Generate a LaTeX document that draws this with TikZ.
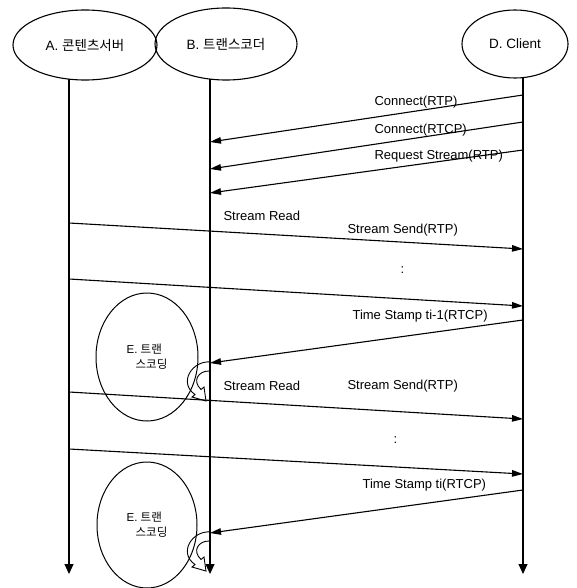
\documentclass[tikz,border=0pt]{standalone}
\usepackage{fontspec}
\setmainfont{Liberation Sans}
\newfontfamily\kr{Noto Sans CJK KR}
\usetikzlibrary{arrows.meta,shapes.geometric}
\begin{document}
\begin{tikzpicture}[x=1pt,y=-1pt,line width=1.1pt,
  actor/.style={ellipse,draw,inner sep=0pt,font=\fontsize{13.5}{15}\selectfont},
  proc/.style={ellipse,draw,inner sep=0pt,line width=1pt,align=left,font=\fontsize{11.5}{15}\selectfont},
  life/.style={-{Triangle[length=10pt,width=9pt]}},
  msg/.style={-{Triangle[length=11pt,width=6.5pt]}},
  lbl/.style={anchor=west,inner sep=0pt,font=\fontsize{13}{15}\selectfont},
  loopar/.style={line width=0.9pt}]
\useasboundingbox (0,0) rectangle (577,588);
% actors
\node[actor,minimum width=144pt,minimum height=70pt] (A) at (85,45) {A. {\kr 콘텐츠서버}};
\node[actor,minimum width=142pt,minimum height=72pt] (B) at (226,44) {B. {\kr 트랜스코더}};
\node[actor,minimum width=106pt,minimum height=68pt] (D) at (515,44) {D. Client};
% lifelines
\coordinate (Atop) at (69,79); \coordinate (Abot) at (69,574);
\coordinate (Btop) at (210,79); \coordinate (Bbot) at (210,574);
\coordinate (Dtop) at (523,78); \coordinate (Dbot) at (523,574);
\draw[life] (Atop) -- (Abot);
\draw[life] (Btop) -- (Bbot);
\draw[life] (Dtop) -- (Dbot);
% transcoding ellipses
\node[proc,minimum width=102pt,minimum height=128pt] (E1) at (147,357) {E. {\kr 트랜}\\\hspace*{9pt}{\kr 스코딩}};
\node[proc,minimum width=100pt,minimum height=126pt] (E2) at (147,525) {E. {\kr 트랜}\\\hspace*{9pt}{\kr 스코딩}};
% message endpoints
\coordinate (d1) at (523,95);  \coordinate (b1) at (210,142);
\coordinate (d2) at (523,122); \coordinate (b2) at (210,169);
\coordinate (d3) at (523,150); \coordinate (b3) at (210,193);
\coordinate (a4) at (69,223);  \coordinate (d4) at (523,249);
\coordinate (a5) at (69,279);  \coordinate (d5) at (523,306);
\coordinate (d6) at (523,320); \coordinate (b6) at (210,363);
\coordinate (a7) at (69,392);  \coordinate (d7) at (523,419);
\coordinate (a8) at (69,449);  \coordinate (d8) at (523,474);
\coordinate (d9) at (523,490); \coordinate (b9) at (210,533);
\draw[msg] (d1) -- (b1);
\draw[msg] (d2) -- (b2);
\draw[msg] (d3) -- (b3);
\draw[msg] (a4) -- (d4);
\draw[msg] (a5) -- (d5);
\draw[msg] (d6) -- (b6);
\draw[msg] (a7) -- (d7);
\draw[msg] (a8) -- (d8);
\draw[msg] (d9) -- (b9);
% labels
\node[lbl] (l1) at (374,102) {Connect(RTP)};
\node[lbl] (l2) at (374,130) {Connect(RTCP)};
\node[lbl] (l3) at (374,156) {Request Stream(RTP)};
\node[lbl] (l4) at (223,216) {Stream Read};
\node[lbl] (l5) at (347,230) {Stream Send(RTP)};
\node[lbl] (l6) at (400,270) {:};
\node[lbl] (l7) at (352,316) {Time Stamp ti-1(RTCP)};
\node[lbl] (l8) at (223,386) {Stream Read};
\node[lbl] (l9) at (347,386) {Stream Send(RTP)};
\node[lbl] (l10) at (393,440) {:};
\node[lbl] (l11) at (362,485) {Time Stamp ti(RTCP)};
% curved block arrows (transcoding loop)
\foreach \yy in {363,533}{
  \draw[loopar,shift={(210,\yy)}]
    (1,-1) .. controls (-18,-3) and (-32,20) .. (-15,31.5)
    -- (-18,34) -- (-4,38) -- (-6,24) -- (-9,26.5)
    .. controls (-18,18) and (-12,8) .. (-1,8);
}
\end{tikzpicture}
\end{document}
